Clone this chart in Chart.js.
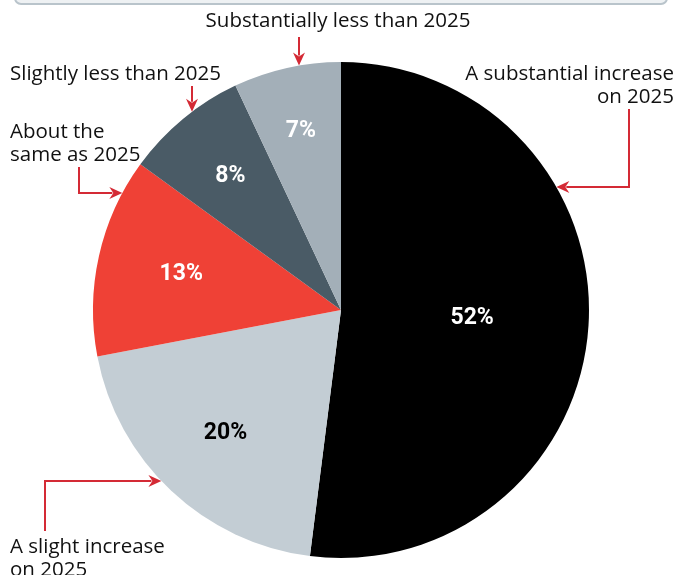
<!DOCTYPE html>
<html>
<head>
<meta charset="utf-8">
<script src="https://cdn.jsdelivr.net/npm/chart.js@4.4.1/dist/chart.umd.min.js"></script>
<style>
    html, body { margin: 0; padding: 0; background: #ffffff; }
    #wrap { position: relative; width: 678px; height: 575px; overflow: hidden; }
    #topbox {
        position: absolute; left: 14px; top: -12px; width: 650px; height: 13px;
        background: #eef1f3; border: 2px solid #b9c4cb; border-radius: 7px;
    }
    canvas { position: absolute; left: 0; top: 0; }
</style>
</head>
<body>
<div id="wrap">
    <div id="topbox"></div>
    <canvas id="pie" width="678" height="575"></canvas>
</div>
<script>
// answers, clockwise from 12 o'clock
const categories = [
    'A substantial increase on 2025',
    'A slight increase on 2025',
    'About the same as 2025',
    'Slightly less than 2025',
    'Substantially less than 2025'
];
const shares = [52, 20, 13, 8, 7];
const sliceColors = ['#000000', '#c3cdd4', '#ef4136', '#4a5b66', '#a3afb8'];
const pctColors = ['#ffffff', '#000000', '#ffffff', '#ffffff', '#ffffff'];
// how far out (fraction of radius) each % label sits
const pctRadius = [0.53, 0.68, 0.66, 0.70, 0.74];

const RED = '#d42a35';
const FONT = '"Open Sans", sans-serif';

// callout text + leader lines (dir = where the arrow points)
const callouts = [
    { lines: ['Substantially less than 2025'], x: 338, y: 27, align: 'center', from: [299, 37], dir: 'down' },
    { lines: ['Slightly less than 2025'], x: 10, y: 80, align: 'left', from: [192, 86], dir: 'down' },
    { lines: ['A substantial increase', 'on 2025'], x: 674, y: 80, align: 'right', from: [629, 109], elbow: [629, 187], dir: 'left' },
    { lines: ['About the', 'same as 2025'], x: 10, y: 138, align: 'left', from: [79, 167], elbow: [79, 193], dir: 'right' },
    { lines: ['A slight increase', 'on 2025'], x: 10, y: 553, align: 'left', from: [45, 531], elbow: [45, 481], dir: 'right' }
];

function arrowHead(ctx, x, y, dir) {
    // barbed arrowhead, tip at (x, y)
    const len = 13, half = 6, notch = 4;
    const a = { down: Math.PI / 2, left: Math.PI, right: 0 }[dir];
    const c = Math.cos(a), s = Math.sin(a);
    const pt = (dx, dy) => [x + dx * c - dy * s, y + dx * s + dy * c];
    ctx.beginPath();
    ctx.moveTo(...pt(0, 0));
    ctx.lineTo(...pt(-len, -half));
    ctx.lineTo(...pt(-len + notch, 0));
    ctx.lineTo(...pt(-len, half));
    ctx.closePath();
    ctx.fill();
}

const calloutPlugin = {
    id: 'callouts',
    afterDraw(chart) {
        const ctx = chart.ctx;
        const arc = chart.getDatasetMeta(0).data[0];
        const cx = arc.x, cy = arc.y, r = arc.outerRadius;

        // percentage labels
        ctx.save();
        ctx.font = 'bold 23px Roboto, sans-serif';
        ctx.textAlign = 'center';
        ctx.textBaseline = 'middle';
        chart.getDatasetMeta(0).data.forEach((el, i) => {
            const mid = (el.startAngle + el.endAngle) / 2;
            const d = r * pctRadius[i];
            ctx.fillStyle = pctColors[i];
            ctx.fillText(shares[i] + '%', cx + Math.cos(mid) * d, cy + Math.sin(mid) * d);
        });
        ctx.restore();

        // callouts
        ctx.save();
        ctx.font = '20.5px ' + FONT;
        ctx.fillStyle = '#111111';
        ctx.textBaseline = 'alphabetic';
        callouts.forEach(c => {
            ctx.textAlign = c.align;
            c.lines.forEach((ln, j) => ctx.fillText(ln, c.x, c.y + j * 23));
        });

        ctx.strokeStyle = RED;
        ctx.fillStyle = RED;
        ctx.lineWidth = 2;
        callouts.forEach(c => {
            let tip;
            if (c.dir === 'down') {
                const dx = c.from[0] - cx;
                tip = [c.from[0], cy - Math.sqrt(r * r - dx * dx)];
            } else {
                const dy = c.elbow[1] - cy;
                const w = Math.sqrt(r * r - dy * dy);
                tip = [c.dir === 'left' ? cx + w : cx - w, c.elbow[1]];
            }
            ctx.beginPath();
            ctx.moveTo(c.from[0], c.from[1]);
            if (c.elbow) ctx.lineTo(c.elbow[0], c.elbow[1]);
            const back = 10;
            const end = c.dir === 'down' ? [tip[0], tip[1] - back]
                : c.dir === 'left' ? [tip[0] + back, tip[1]] : [tip[0] - back, tip[1]];
            ctx.lineTo(end[0], end[1]);
            ctx.stroke();
            arrowHead(ctx, tip[0], tip[1], c.dir);
        });
        ctx.restore();
    }
};

new Chart(document.getElementById('pie'), {
    type: 'pie',
    data: {
        labels: categories,
        datasets: [{
            data: shares,
            backgroundColor: sliceColors,
            borderWidth: 0
        }]
    },
    options: {
        responsive: false,
        animation: false,
        layout: { padding: { top: 62, bottom: 17, left: 93, right: 89 } },
        plugins: {
            legend: { display: false },
            tooltip: { enabled: false }
        }
    },
    plugins: [calloutPlugin]
});
</script>
</body>
</html>
